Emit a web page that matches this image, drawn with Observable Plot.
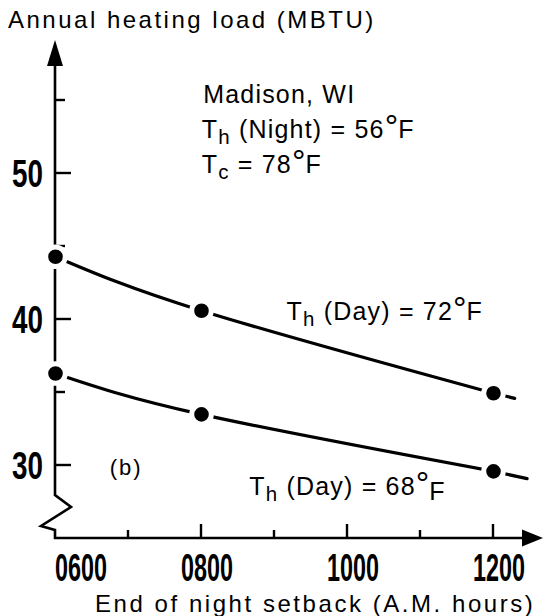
<!DOCTYPE html>
<html>
<head>
<meta charset="utf-8">
<script src="https://cdn.jsdelivr.net/npm/d3@7"></script>
<script src="https://cdn.jsdelivr.net/npm/@observablehq/plot@0.6"></script>
<style>
  html, body { margin: 0; padding: 0; background: #fff; }
  #chart svg { display: block; }
</style>
</head>
<body>
<div id="chart"></div>
<script>
// ---------- data ----------
const hours = [6, 8, 12];                 // end of night setback (A.M. hours)
const load72 = [44.3, 40.6, 34.95];       // T_h (Day) = 72°F
const load68 = [36.3, 33.5, 29.6];        // T_h (Day) = 68°F
const ext72 = [12.29, 34.6];              // dashed continuation end (hour, load)
const ext68 = [12.46, 29.1];
const xDomain = [6, 12];
const yDomain = [25, 55];
const xMajorTicks = [8, 10, 12];
const xMinorTicks = [7, 9, 11];
const xLabelValues = [6, 8, 10, 12];
const xTickLabels = ["0600", "0800", "1000", "1200"];
const yMajorTicks = [30, 40, 50];
const yMinorTicks = [35, 45, 55];
const yTickLabels = ["30", "40", "50"];
const yTitle = "Annual heating load (MBTU)";
const xTitle = "End of night setback (A.M. hours)";
const annotations = [
  {hour: 8.03, load: 54.77, parts: [["Madison, WI"]]},
  {hour: 8.01, load: 52.38, parts: [["T"], ["h", "sub"], [" (Night) = 56"], ["°", "deg"], ["F"]]},
  {hour: 8.01, load: 50.0, parts: [["T"], ["c", "sub"], [" = 78"], ["°", "deg"], ["F"]]},
  {hour: 9.17, load: 39.93, parts: [["T"], ["h", "sub"], [" (Day) = 72"], ["°", "deg"], ["F"]]},
  {hour: 8.66, load: 27.95, parts: [["T"], ["h", "sub"], [" (Day) = 68"], ["°", "deg"], ["F", "low"]]},
  {hour: 6.75, load: 29.3, parts: [["(b)"]], small: true}
];

// ---------- tables ----------
const seriesList = [
  {name: "72", values: load72, ext: ext72},
  {name: "68", values: load68, ext: ext68}
];
const points = seriesList.flatMap(s => hours.map((h, i) => ({series: s.name, hour: h, load: s.values[i]})));
const extSegs = seriesList.flatMap(s => [
  {series: s.name, hour: hours[hours.length - 1], load: s.values[s.values.length - 1]},
  {series: s.name, hour: s.ext[0], load: s.ext[1]}
]);

const TEXT_FONT = "'Liberation Sans', Arial, Helvetica, sans-serif";
const DIGIT_FONT = "'Liberation Sans Narrow', 'Liberation Sans', Arial, sans-serif";

function getScales(scales, dim) {
  const x = scales && typeof scales.x === "function" ? scales.x
    : d3.scaleLinear(xDomain, [dim.marginLeft, dim.width - dim.marginRight]);
  const y = scales && typeof scales.y === "function" ? scales.y
    : d3.scaleLinear(yDomain, [dim.height - dim.marginBottom, dim.marginTop]);
  return {x, y};
}

// axes: lines, break, arrows, ticks, tick labels, titles
function axesMark(index, scales, values, dim) {
  const {x, y} = getScales(scales, dim);
  const x0 = x(xDomain[0]), y0 = y(yDomain[0]);
  const yTip = 40, yBase = 66, xTip = dim.width - 3, xBase = xTip - 21;
  const g = d3.create("svg:g");
  // axis line with break
  g.append("path")
    .attr("d", `M${x0},${yBase - 2} V${y0 - 43} L${x0 + 16},${y0 - 31} L${x0 - 14},${y0 - 12} L${x0},${y0 - 8} V${y0} H${xBase + 2}`)
    .attr("fill", "none").attr("stroke", "#000").attr("stroke-width", 2.6).attr("stroke-linejoin", "miter");
  g.append("path").attr("d", `M${x0},${yTip} L${x0 - 8},${yBase} L${x0 + 8},${yBase} Z`).attr("fill", "#000");
  g.append("path").attr("d", `M${xTip},${y0} L${xBase},${y0 - 8.5} L${xBase},${y0 + 8.5} Z`).attr("fill", "#000");
  // ticks
  const tk = g.append("g").attr("stroke", "#000").attr("stroke-width", 2.4);
  yMajorTicks.forEach(v => tk.append("line").attr("x1", x0).attr("x2", x0 + 16).attr("y1", y(v)).attr("y2", y(v)));
  yMinorTicks.forEach(v => tk.append("line").attr("x1", x0).attr("x2", x0 + 10).attr("y1", y(v)).attr("y2", y(v)));
  xMajorTicks.forEach(v => tk.append("line").attr("x1", x(v)).attr("x2", x(v)).attr("y1", y0).attr("y2", y0 - 14));
  xMinorTicks.forEach(v => tk.append("line").attr("x1", x(v)).attr("x2", x(v)).attr("y1", y0).attr("y2", y0 - 8));
  // tick labels
  yTickLabels.forEach((lab, i) => {
    g.append("g").attr("transform", `translate(${x0 - 12},${y(yMajorTicks[i]) + 13.5})`)
      .append("text").attr("class", "ytl").attr("text-anchor", "end")
      .attr("font-family", DIGIT_FONT).attr("font-size", 38).attr("font-weight", "bold").attr("fill", "#000")
      .text(lab);
  });
  xTickLabels.forEach((lab, i) => {
    const first = i === 0;
    g.append("g").attr("transform", `translate(${x(xLabelValues[i]) + (first ? 0 : 6)},${y0 + 43})`)
      .append("text").attr("class", "xtl").attr("text-anchor", first ? "start" : "middle")
      .attr("font-family", DIGIT_FONT).attr("font-size", 38).attr("font-weight", "bold").attr("fill", "#000")
      .text(lab);
  });
  // titles
  g.append("text").attr("x", 8).attr("y", 28).attr("text-anchor", "start")
    .attr("font-family", TEXT_FONT).attr("font-size", 24).attr("letter-spacing", "2.5px").attr("fill", "#000")
    .text(yTitle);
  g.append("text").attr("x", x0 + 40).attr("y", dim.height - 4.5).attr("text-anchor", "start")
    .attr("font-family", TEXT_FONT).attr("font-size", 24).attr("letter-spacing", "2.55px").attr("fill", "#000")
    .text(xTitle);
  return g.node();
}

// annotations with sub/superscripts
function annotationMark(index, scales, values, dim) {
  const {x, y} = getScales(scales, dim);
  const g = d3.create("svg:g").attr("font-family", TEXT_FONT).attr("fill", "#000").attr("text-anchor", "start");
  for (const a of annotations) {
    const t = g.append("text").attr("x", x(a.hour)).attr("y", y(a.load)).attr("text-anchor", "start")
      .attr("font-size", a.small ? 22 : 25).attr("letter-spacing", a.small ? "2px" : "1.2px");
    let shift = 0;
    for (const [txt, kind] of a.parts) {
      const target = kind === "sub" ? 6 : kind === "low" ? 5 : 0;
      const sp = t.append("tspan").attr("dy", target - shift).text(txt);
      if (kind === "sub") sp.attr("font-size", "0.82em");
      if (kind === "deg") sp.attr("font-size", "1.35em").attr("letter-spacing", "0px");
      shift = target;
    }
  }
  return g.node();
}

const chart = Plot.plot({
  width: 546,
  height: 616,
  marginLeft: 55,
  marginRight: 53,
  marginTop: 100,
  marginBottom: 78,
  x: {domain: xDomain, axis: null},
  y: {domain: yDomain, axis: null},
  style: {background: "#fff", color: "#000", fontFamily: TEXT_FONT},
  marks: [
    axesMark,
    Plot.line(points, {x: "hour", y: "load", z: "series", curve: "natural", stroke: "#000", strokeWidth: 3.2}),
    Plot.line(extSegs, {x: "hour", y: "load", z: "series", stroke: "#000", strokeWidth: 3.2}),
    Plot.dot(points, {x: "hour", y: "load", r: 9.8, fill: "#000", stroke: "#fff", strokeWidth: 5}),
    annotationMark
  ]
});
document.getElementById("chart").append(chart);

// condense the tick-label digits horizontally to the reference proportions
function condense(cls, sample, target) {
  const texts = [...chart.querySelectorAll("text." + cls)];
  const ref = texts.find(t => t.textContent === sample);
  if (!ref) return;
  const len = ref.getComputedTextLength();
  if (!len) return;
  const s = target / len;
  texts.forEach(t => t.setAttribute("transform", `scale(${s},1)`));
}
condense("xtl", "0800", 52);
condense("ytl", "50", 31);
</script>
</body>
</html>
